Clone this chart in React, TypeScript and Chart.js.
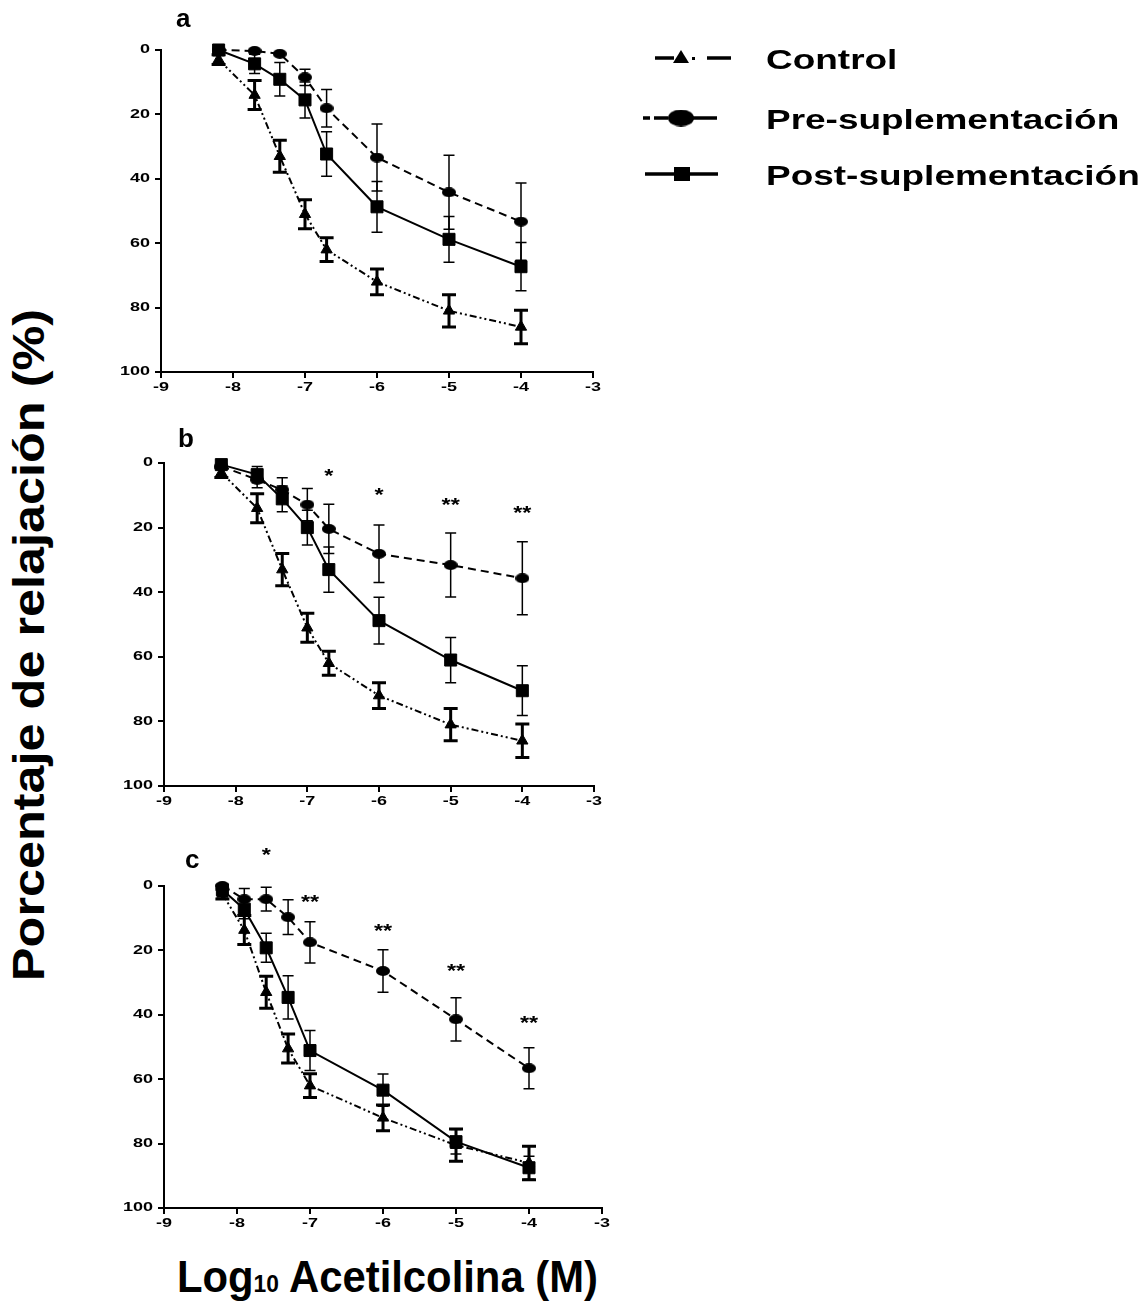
import React, { useEffect, useRef } from 'react';
import { Chart, registerables } from 'chart.js';
Chart.register(...registerables);

// ---------- DATA ----------
const xTickValues = [-9, -8, -7, -6, -5, -4, -3];
const yTickValues = [0, 20, 40, 60, 80, 100];

const seriesNames = ['Control', 'Pre-suplementación', 'Post-suplementación'];

const xPointsAB = [-8.2, -7.7, -7.35, -7.0, -6.7, -6, -5, -4];
const xPointsC = [-8.2, -7.9, -7.6, -7.3, -7.0, -6, -5, -4];

const controlMean = [3, 14, 33, 51, 62, 72, 81, 86];
const controlSem = [1.5, 4.5, 5, 4.5, 3.7, 4, 5, 5.2];

const aPreMean = [0, 0.3, 1.2, 8.5, 18.1, 33.4, 44.2, 53.3];
const aPreSem = [0, 0, 0, 2.5, 5.8, 10.4, 11.5, 12];
const aPostMean = [0, 4.3, 9.1, 15.5, 32.3, 48.7, 58.8, 67.3];
const aPostSem = [0, 3, 5.2, 5.6, 6.9, 7.9, 7.1, 7.5];

const bPreMean = [1, 5.2, 8.3, 12.9, 20.4, 28.1, 31.6, 35.7];
const bPreSem = [1, 2.5, 3.7, 5, 7.6, 8.9, 9.9, 11.3];
const bPostMean = [0.5, 3.6, 11.1, 20, 33, 48.8, 61, 70.5];
const bPostSem = [0.5, 2.5, 4, 5.4, 7, 7.2, 7, 7.7];

const cControlMean = [2.5, 13.7, 33, 50.5, 62, 72, 80.5, 86];
const cPreMean = [0, 4.1, 4.1, 9.7, 17.5, 26.4, 41.4, 56.6];
const cPreSem = [0.5, 3.3, 3.7, 5.4, 6.4, 6.6, 6.7, 6.4];
const cPostMean = [1.2, 7.2, 19.2, 34.6, 51.1, 63.4, 79.4, 87.5];
const cPostSem = [1, 3, 4.5, 6.7, 6.2, 5, 3.8, 3.6];

const bStarX = [-6.7, -6, -5, -4];
const bStarY = [2.6, 8.5, 11.6, 14.2];
const bStarText = ['*', '*', '**', '**'];

const cStarX = [-7.6, -7, -6, -5, -4];
const cStarY = [-11, 3.6, 12.6, 25, 41.3];
const cStarText = ['*', '**', '**', '**', '**'];

// ---------- STYLE ----------
const FONT = '"Liberation Sans", Arial, Helvetica, sans-serif';
const TICK_STRETCH = 1.5;

type Box = { left: number; top: number; width: number; height: number };
type Area = { left: number; top: number; right: number; bottom: number };
type PanelCfg = {
  key: string;
  canvas: Box;
  area: Area;
  letter: { text: string; x: number; y: number };
  xs: number[];
  control: number[];
  controlErr: number[];
  pre: number[];
  preErr: number[];
  post: number[];
  postErr: number[];
  stars: { x: number[]; y: number[]; text: string[] } | null;
  legend: boolean;
};

const panels: PanelCfg[] = [
  {
    key: 'a',
    canvas: { left: 100, top: 0, width: 1047, height: 400 },
    area: { left: 161, top: 50, right: 593, bottom: 372 },
    letter: { text: 'a', x: 176, y: 27 },
    xs: xPointsAB,
    control: controlMean, controlErr: controlSem,
    pre: aPreMean, preErr: aPreSem,
    post: aPostMean, postErr: aPostSem,
    stars: null,
    legend: true,
  },
  {
    key: 'b',
    canvas: { left: 100, top: 410, width: 520, height: 400 },
    area: { left: 164, top: 463, right: 594, bottom: 786 },
    letter: { text: 'b', x: 178, y: 447 },
    xs: xPointsAB,
    control: controlMean, controlErr: controlSem,
    pre: bPreMean, preErr: bPreSem,
    post: bPostMean, postErr: bPostSem,
    stars: { x: bStarX, y: bStarY, text: bStarText },
    legend: false,
  },
  {
    key: 'c',
    canvas: { left: 100, top: 820, width: 540, height: 420 },
    area: { left: 164, top: 886, right: 602, bottom: 1208 },
    letter: { text: 'c', x: 185, y: 868 },
    xs: xPointsC,
    control: cControlMean, controlErr: controlSem,
    pre: cPreMean, preErr: cPreSem,
    post: cPostMean, postErr: cPostSem,
    stars: { x: cStarX, y: cStarY, text: cStarText },
    legend: false,
  },
];

function ellipseStyle(w: number, h: number) {
  const c = document.createElement('canvas');
  c.width = w;
  c.height = h;
  const g = c.getContext('2d')!;
  g.fillStyle = '#000';
  g.beginPath();
  g.ellipse(w / 2, h / 2, w / 2, h / 2, 0, 0, Math.PI * 2);
  g.fill();
  return c;
}

function toPoints(xs: number[], ys: number[]) {
  return xs.map((x, i) => ({ x, y: ys[i] }));
}

const errorBarPlugin = {
  id: 'errorBars',
  beforeDatasetsDraw(chart: any) {
    const { ctx } = chart;
    const xs = chart.scales.x;
    const ys = chart.scales.y;
    chart.data.datasets.forEach((ds: any) => {
      ctx.save();
      ctx.strokeStyle = '#000';
      ctx.lineWidth = ds.errLineWidth;
      ctx.setLineDash([]);
      ds.data.forEach((p: any, i: number) => {
        const e = ds.errors[i];
        if (!e) return;
        const px = xs.getPixelForValue(p.x);
        const y1 = ys.getPixelForValue(p.y - e);
        const y2 = ys.getPixelForValue(p.y + e);
        const hw = ds.capWidth / 2;
        ctx.beginPath();
        ctx.moveTo(px, y1);
        ctx.lineTo(px, y2);
        ctx.moveTo(px - hw, y1);
        ctx.lineTo(px + hw, y1);
        ctx.moveTo(px - hw, y2);
        ctx.lineTo(px + hw, y2);
        ctx.stroke();
      });
      ctx.restore();
    });
  },
};

const tickLabelPlugin = {
  id: 'stretchedTicks',
  afterDraw(chart: any) {
    const { ctx, chartArea } = chart;
    const xs = chart.scales.x;
    const ys = chart.scales.y;
    ctx.save();
    ctx.fillStyle = '#000';
    ctx.font = `bold 12px ${FONT}`;
    ctx.textBaseline = 'middle';
    ctx.textAlign = 'right';
    yTickValues.forEach((v) => {
      const py = ys.getPixelForValue(v);
      ctx.save();
      ctx.translate(chartArea.left - 11, py);
      ctx.scale(TICK_STRETCH, 1);
      ctx.fillText(String(v), 0, 0);
      ctx.restore();
    });
    ctx.textAlign = 'center';
    xTickValues.forEach((v) => {
      const px = xs.getPixelForValue(v);
      ctx.save();
      ctx.translate(px, chartArea.bottom + 16);
      ctx.scale(TICK_STRETCH, 1);
      ctx.fillText(String(v), 0, 0);
      ctx.restore();
    });
    ctx.restore();
  },
};

function makeAnnotationPlugin(p: PanelCfg) {
  return {
    id: 'annot_' + p.key,
    afterDraw(chart: any) {
      const { ctx } = chart;
      const xs = chart.scales.x;
      const ys = chart.scales.y;
      ctx.save();
      ctx.fillStyle = '#000';
      ctx.font = `bold 26px ${FONT}`;
      ctx.textAlign = 'left';
      ctx.textBaseline = 'alphabetic';
      ctx.fillText(p.letter.text, p.letter.x - p.canvas.left, p.letter.y - p.canvas.top);
      if (p.stars) {
        const fs = 18;
        ctx.font = `bold ${fs}px ${FONT}`;
        ctx.textAlign = 'center';
        p.stars.x.forEach((sx, i) => {
          const px = xs.getPixelForValue(sx);
          const py = ys.getPixelForValue(p.stars!.y[i]);
          ctx.save();
          ctx.translate(px, py + 0.575 * fs);
          ctx.scale(1.3, 1);
          ctx.fillText(p.stars!.text[i], 0, 0);
          ctx.restore();
        });
      }
      ctx.restore();
    },
  };
}

function makeLegendPlugin(p: PanelCfg, ellipse: HTMLCanvasElement) {
  return {
    id: 'sideLegend',
    afterDraw(chart: any) {
      const { ctx } = chart;
      const ox = p.canvas.left;
      const oy = p.canvas.top;
      const rows = [58, 118, 174];
      const baselines = [69, 129, 185];
      ctx.save();
      ctx.strokeStyle = '#000';
      ctx.fillStyle = '#000';
      ctx.lineWidth = 3.5;
      const seg = (x0: number, x1: number, y: number) => {
        ctx.beginPath();
        ctx.moveTo(x0 - ox, y - oy);
        ctx.lineTo(x1 - ox, y - oy);
        ctx.stroke();
      };
      // Control: solid, triangle, dot, dash
      seg(655, 674, rows[0]);
      ctx.beginPath();
      ctx.moveTo(681 - ox, rows[0] - 8 - oy);
      ctx.lineTo(689 - ox, rows[0] + 5 - oy);
      ctx.lineTo(673 - ox, rows[0] + 5 - oy);
      ctx.closePath();
      ctx.fill();
      ctx.fillRect(692 - ox, rows[0] - 1 - oy, 3, 3);
      seg(707, 731, rows[0]);
      // Pre: dashes, ellipse, solid
      seg(643, 650, rows[1]);
      seg(654, 668, rows[1]);
      ctx.drawImage(ellipse, 681 - ellipse.width / 2 - ox, rows[1] - ellipse.height / 2 - oy);
      seg(693, 717, rows[1]);
      // Post: solid with square
      seg(645, 718, rows[2]);
      ctx.fillRect(674 - ox, rows[2] - 7 - oy, 16, 14);
      // texts
      ctx.font = `bold 28px ${FONT}`;
      ctx.textAlign = 'left';
      ctx.textBaseline = 'alphabetic';
      seriesNames.forEach((name, i) => {
        ctx.save();
        ctx.translate(766 - ox, baselines[i] - oy);
        ctx.scale(1.32, 1);
        ctx.fillText(name, 0, 0);
        ctx.restore();
      });
      ctx.restore();
    },
  };
}

function Panel({ cfg }: { cfg: PanelCfg }) {
  const ref = useRef<HTMLCanvasElement | null>(null);
  useEffect(() => {
    if (!ref.current) return;
    const ellipse = ellipseStyle(14, 10);
    const legendEllipse = ellipseStyle(26, 17);
    const { canvas, area } = cfg;
    const yAxisWidth = area.left - canvas.left;
    const xAxisHeight = canvas.top + canvas.height - area.bottom;
    const common = {
      borderColor: '#000',
      backgroundColor: '#000',
      pointBackgroundColor: '#000',
      pointBorderColor: '#000',
      pointBorderWidth: 1,
      borderWidth: 2,
      showLine: true,
      tension: 0,
      clip: false,
    };
    const plugins: any[] = [errorBarPlugin, tickLabelPlugin, makeAnnotationPlugin(cfg)];
    if (cfg.legend) plugins.push(makeLegendPlugin(cfg, legendEllipse));
    const chart = new Chart(ref.current, {
      type: 'scatter',
      data: {
        datasets: [
          {
            ...common,
            label: seriesNames[0],
            data: toPoints(cfg.xs, cfg.control),
            errors: cfg.controlErr,
            errLineWidth: 3,
            capWidth: 14,
            pointStyle: 'triangle',
            pointRadius: 6.5,
            borderDash: [7, 3, 2, 3, 2, 3],
          } as any,
          {
            ...common,
            label: seriesNames[1],
            data: toPoints(cfg.xs, cfg.pre),
            errors: cfg.preErr,
            errLineWidth: 1.5,
            capWidth: 11,
            pointStyle: ellipse,
            pointRadius: 6,
            borderDash: [8, 5],
          } as any,
          {
            ...common,
            label: seriesNames[2],
            data: toPoints(cfg.xs, cfg.post),
            errors: cfg.postErr,
            errLineWidth: 1.5,
            capWidth: 11,
            pointStyle: 'rect',
            pointRadius: 8.5,
          } as any,
        ],
      },
      options: {
        animation: false,
        responsive: false,
        maintainAspectRatio: false,
        devicePixelRatio: 1,
        events: [],
        layout: {
          padding: {
            left: 0,
            top: area.top - canvas.top,
            right: canvas.left + canvas.width - area.right,
            bottom: 0,
          },
        },
        plugins: {
          legend: { display: false },
          tooltip: { enabled: false },
          title: { display: false },
        },
        scales: {
          x: {
            type: 'linear',
            min: -9,
            max: -3,
            afterBuildTicks: (s: any) => {
              s.ticks = xTickValues.map((v) => ({ value: v }));
            },
            afterFit: (s: any) => {
              s.height = xAxisHeight;
            },
            ticks: { display: false },
            grid: {
              drawOnChartArea: false,
              drawTicks: true,
              tickLength: 6,
              color: '#000',
              lineWidth: 2,
            },
            border: { display: true, color: '#000', width: 2 },
          },
          y: {
            type: 'linear',
            min: 0,
            max: 100,
            reverse: true,
            afterBuildTicks: (s: any) => {
              s.ticks = yTickValues.map((v) => ({ value: v }));
            },
            afterFit: (s: any) => {
              s.width = yAxisWidth;
            },
            ticks: { display: false },
            grid: {
              drawOnChartArea: false,
              drawTicks: true,
              tickLength: 6,
              color: '#000',
              lineWidth: 2,
            },
            border: { display: true, color: '#000', width: 2 },
          },
        },
      } as any,
      plugins,
    });
    return () => chart.destroy();
  }, [cfg]);
  return (
    <canvas
      ref={ref}
      width={cfg.canvas.width}
      height={cfg.canvas.height}
      style={{
        position: 'absolute',
        left: cfg.canvas.left,
        top: cfg.canvas.top,
        width: cfg.canvas.width,
        height: cfg.canvas.height,
      }}
    />
  );
}

export default function App() {
  return (
    <div style={{ position: 'absolute', left: 0, top: 0, width: 1147, height: 1303, background: '#fff', overflow: 'hidden' }}>
      {panels.map((p) => (
        <Panel key={p.key} cfg={p} />
      ))}
      <div
        style={{
          position: 'absolute',
          left: 29,
          top: 645,
          transform: 'translate(-50%, -50%) rotate(-90deg) scaleX(1.145)',
          font: `bold 44px ${FONT}`,
          lineHeight: '44px',
          whiteSpace: 'nowrap',
          color: '#000',
        }}
      >
        Porcentaje de relajación (%)
      </div>
      <div
        style={{
          position: 'absolute',
          left: 177,
          top: 1255,
          font: `bold 44px ${FONT}`,
          lineHeight: '44px',
          whiteSpace: 'nowrap',
          color: '#000',
          transform: 'scaleX(0.95)',
          transformOrigin: 'left center',
        }}
      >
        Log<span style={{ fontSize: 24 }}>10</span> Acetilcolina (M)
      </div>
    </div>
  );
}
